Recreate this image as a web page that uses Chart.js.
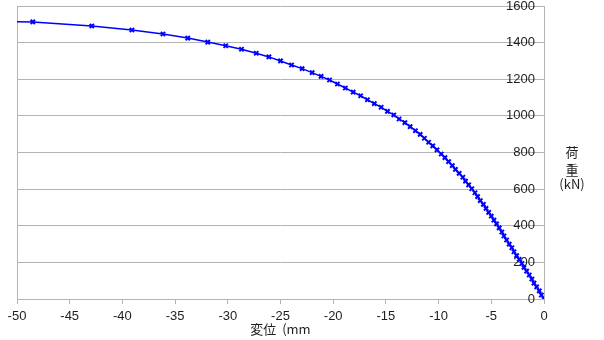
<!DOCTYPE html>
<html>
<head>
<meta charset="utf-8">
<script src="https://cdn.jsdelivr.net/npm/chart.js@4/dist/chart.umd.min.js"></script>
<style>
  html, body { margin: 0; padding: 0; background: #fff; }
  #wrap { width: 604px; height: 340px; position: relative; }
</style>
</head>
<body>
<div id="wrap"><canvas id="loadChart" width="604" height="340"></canvas></div>
<script>
// displacement (mm) and load (kN)
const dispMm = [
  -55.0, -48.5, -42.9, -39.1, -36.15, -33.8, -31.9, -30.2, -28.7, -27.3, -26.1,
  -25.0, -23.95, -22.95, -22.0, -21.15, -20.35, -19.6, -18.85, -18.1, -17.4,
  -16.75, -16.1, -15.45, -14.85, -14.25, -13.75, -13.2, -12.7, -12.2, -11.75,
  -11.35, -10.95, -10.55, -10.15, -9.75, -9.4, -9.05, -8.7, -8.4, -8.05,
  -7.7, -7.45, -7.15, -6.85, -6.55, -6.3, -6.05, -5.75, -5.5, -5.25,
  -5.0, -4.75, -4.5, -4.25, -4.0, -3.8, -3.55, -3.3, -3.05, -2.85,
  -2.6, -2.35, -2.1, -1.9, -1.65, -1.4, -1.15, -0.95, -0.7, -0.45, -0.25, 0
];
const loadKn = [
  1516, 1513, 1491, 1469, 1447, 1425, 1403, 1383, 1364, 1342, 1322,
  1300, 1278, 1258, 1236, 1216, 1196, 1174, 1152, 1130, 1110,
  1088, 1067, 1047, 1025, 1005, 983, 963, 941, 919, 899,
  878, 856, 836, 814, 792, 772, 750, 728, 708, 686,
  665, 644, 623, 602, 580, 559, 537, 517, 495, 473,
  453, 431, 410, 388, 366, 344, 322, 300, 280, 258,
  237, 216, 194, 173, 152, 131, 109, 87, 66, 44, 22, 0
];
const xTitle = '変位  (mm';
const yTitleLines = ['荷', '重', '(kN)'];

const gridGray = '#b3b3b3';
const textColor = '#1e1e1e';

const yTitlePlugin = {
  id: 'yTitle',
  afterDraw(chart) {
    const ctx = chart.ctx;
    ctx.save();
    ctx.fillStyle = textColor;
    ctx.font = '13px "Noto Sans CJK JP", "Liberation Sans", sans-serif';
    ctx.textAlign = 'center';
    ctx.textBaseline = 'middle';
    const offsets = [152, 170, 184];
    yTitleLines.forEach((t, i) => ctx.fillText(t, 572, offsets[i]));
    ctx.restore();
  }
};

const points = dispMm.map((x, i) => ({ x: x, y: loadKn[i] }));

new Chart(document.getElementById('loadChart').getContext('2d'), {
  type: 'line',
  data: {
    datasets: [{
      data: points,
      borderColor: '#0000ff',
      backgroundColor: '#0000ff',
      borderWidth: 1.5,
      pointStyle: 'crossRot',
      pointRadius: 3,
      pointBorderWidth: 2,
      pointBorderColor: '#0000ff',
      tension: 0,
      fill: false
    }]
  },
  options: {
    responsive: false,
    animation: false,
    layout: { padding: { left: 17, top: 6, right: 51, bottom: 0 } },
    plugins: { legend: { display: false }, tooltip: { enabled: false } },
    scales: {
      x: {
        type: 'linear',
        min: -50,
        max: 0,
        afterFit(s) { s.height = 41; s.paddingLeft = 0; s.paddingRight = 0; },
        ticks: {
          stepSize: 5,
          padding: 5,
          color: textColor,
          callback: v => String(v),
          font: { family: '"Liberation Sans", Arial, sans-serif', size: 13 }
        },
        grid: { drawOnChartArea: false, drawTicks: true, tickLength: 5, color: gridGray },
        border: { display: true, color: gridGray },
        title: {
          display: true,
          text: xTitle,
          color: textColor,
          padding: { top: 0, bottom: 6 },
          font: { family: '"Noto Sans CJK JP", "Liberation Sans", sans-serif', size: 13, lineHeight: 0.7 }
        }
      },
      y: {
        position: 'right',
        min: 0,
        max: 1600,
        afterFit(s) { s.width = 9; s.paddingTop = 0; s.paddingBottom = 0; },
        ticks: {
          stepSize: 200,
          mirror: true,
          padding: -9,
          color: textColor,
          callback: v => String(v),
          font: { family: '"Liberation Sans", Arial, sans-serif', size: 13 }
        },
        grid: { color: gridGray, drawTicks: false },
        border: { display: true, color: gridGray }
      },
      yFrame: {
        position: 'left',
        min: 0,
        max: 1,
        afterFit(s) { s.width = 0; s.paddingTop = 0; s.paddingBottom = 0; },
        ticks: { display: false },
        grid: { display: false, drawTicks: false },
        border: { display: true, color: gridGray }
      }
    }
  },
  plugins: [yTitlePlugin]
});
</script>
</body>
</html>
